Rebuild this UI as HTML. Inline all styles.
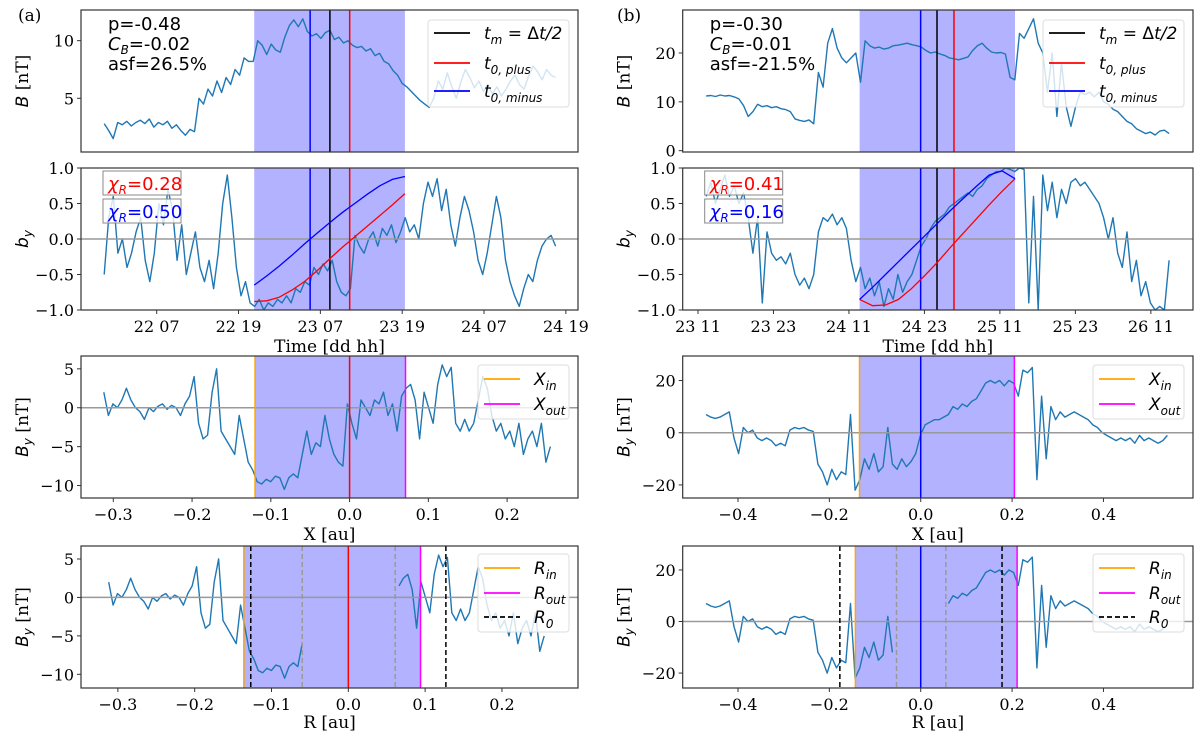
<!DOCTYPE html>
<html><head><meta charset="utf-8"><style>
body{margin:0;background:#fff;}
svg{display:block;font-family:"DejaVu Serif","Liberation Serif",serif;}
.tk{font-size:16px;fill:#000;}
.lg{font-family:"DejaVu Sans","Liberation Sans",sans-serif;font-size:17px;font-style:italic;}
.an{font-family:"DejaVu Sans","Liberation Sans",sans-serif;font-size:18px;}
</style></head><body>
<svg id="fig" width="1200" height="737" viewBox="0 0 1200 737" xmlns="http://www.w3.org/2000/svg"></svg>
<script>
// ---- Data arrays ----
// Panel (a)
const aTimeRange = [-7.7, 58.5]; // hours relative to 22 07
const aB = [2.8,2.2,1.5,2.9,2.7,3.0,2.6,2.9,3.1,2.8,3.2,2.5,2.9,2.7,3.0,
 2.4,2.7,2.2,1.8,2.3,2.1,
 5.0,4.5,5.8,5.2,6.5,5.5,6.8,6.2,7.5,7.0,8.5,8.2,
 8.2,10.0,9.6,8.8,9.7,9.2,9.0,10.3,
 11.3,11.8,11.2,11.9,10.8,
 10.4,10.6,10.2,10.7,10.9,10.1,10.3,9.8,10.0,9.6,
 9.4,9.5,9.1,9.3,8.7,8.9,8.2,8.0,7.4,7.0,6.3,
 6.0,5.6,5.2,4.8,4.5,4.2,
 5.0,6.5,5.8,7.2,6.0,5.0,6.4,7.5,6.8,5.9,6.5,5.6,6.2,5.4,6.0,5.2,5.8,6.5,7.0,6.2,5.8,6.9,7.8,7.3,6.6,7.5,7.0,6.8];
const aBy = [-0.5,0.3,0.6,-0.2,0.0,-0.4,-0.2,0.1,0.3,-0.3,
 -0.6,-0.2,0.5,0.2,0.7,0.4,-0.3,0.2,-0.5,-0.2,
 0.1,-0.4,-0.6,-0.3,-0.7,-0.2,0.5,0.9,0.3,-0.4,
 -0.8,-0.6,-0.9,-0.95,-0.85,-1.0,-0.9,-0.95,-0.85,-0.9,
 -0.8,-0.9,-0.7,-0.75,-0.6,-0.65,-0.4,-0.5,-0.35,-0.45,
 -0.3,-0.6,-0.75,-0.8,-0.7,0.05,-0.1,-0.2,0.0,0.1,
 -0.1,0.15,0.05,0.2,-0.05,0.1,0.3,0.1,0.2,0.0,
 0.5,0.8,0.6,0.85,0.4,0.7,0.2,-0.1,0.3,0.6,
 0.4,0.1,-0.3,-0.5,-0.2,0.2,0.6,0.3,-0.3,-0.6,
 -0.8,-0.95,-0.7,-0.5,-0.6,-0.3,-0.1,0.0,0.05,-0.1];
const aFitRange = [14.3, 36.4];
const aFitMinus = [-0.65,-0.52,-0.38,-0.23,-0.07,0.08,0.23,0.37,0.5,0.63,0.75,0.84,0.88];
const aFitPlus = [-0.88,-0.87,-0.82,-0.72,-0.6,-0.45,-0.28,-0.12,0.03,0.18,0.33,0.48,0.64];
const aTimes = [22.5, 25.4, 28.3]; // t0,minus ; tm ; t0,plus
const aXRange = [-0.312, 0.255];
const aByX = [2,-1,0.5,0,1,2.5,1,0,-0.5,-1.5,
 0,-0.5,0.2,0.5,-0.2,0.3,0,-1,0.5,1.5,
 4,-2,-4,-3.5,2,5,-3,-4,-5,-6,
 -1,-4,-7,-8,-9.5,-9.8,-9.2,-9.5,-8.8,-9,
 -10.5,-9,-8.5,-9,-6,-3,-6,-4.5,-5,-1,
 -4,-6,-7,-7.5,0.5,-2,-4,1,0,-1,
 1,0.5,2,-1,0.5,-3,1.5,2.5,3,1,
 -4,2,0,-2,3,5.5,4,5.2,-2,-3,
 -1.5,-3,-2,1,4,2.5,-1,-3,-2,-4,
 -3,-5,-2,-6,-4,-3,-5,-2,-7,-5];
const aXinOut = [-0.12, 0.071];
const aRinOut = [-0.136, 0.094];
const aR0 = [-0.127, 0.127];
const aGap = [-0.06, 0.061];
const aStats = ["p=-0.48", "-0.02", "asf=26.5%"];
const aChi = ["0.28", "0.50"];
// Panel (b)
const bTimeRange = [1.3, 74.9]; // hours relative to 23 11
const bB = [11.2,11.3,11.1,11.4,11.2,11.3,11.0,10.6,9.2,
 7.0,8.0,
 9.5,9.0,9.2,8.8,9.0,8.6,8.4,8.0,
 6.5,6.2,6.0,6.3,5.5,
 16,13,22,25,21,19,18,19,20,14,
 22.5,21.5,21,21.2,20.8,21.0,21.5,21.6,21.8,22.0,21.7,21.5,21.2,20.5,20.0,20.2,19.8,19.5,19.0,18.8,18.6,18.9,19.2,20.5,21.5,22.0,21.0,20.2,20.0,20.1,19.8,15,14.5,
 24,23,25,27,22,20,
 12,20,7,18,9,5,9,12,11.5,12,11,12,10,9.5,8.5,8,7,6,5.5,4.5,4.0,3.5,3.8,3.2,4.0,4.2,3.5];
const bBy = [0.6,0.8,0.5,0.7,0.9,0.6,0.75,0.5,0.65,0.3,
 -0.2,0.3,-0.9,0.1,-0.2,-0.3,-0.25,-0.35,-0.2,-0.5,
 -0.65,-0.55,-0.7,-0.5,0.1,0.3,0.25,0.35,0.2,0.3,
 0.15,-0.3,-0.6,-0.4,-0.7,-0.55,-0.8,-0.6,-0.95,-0.7,
 -0.85,-0.5,-0.75,-0.6,-0.5,-0.3,-0.1,0.0,0.15,0.25,
 0.3,0.35,0.45,0.5,0.55,0.6,0.65,0.6,0.7,0.75,
 0.85,0.9,0.95,0.95,1.0,0.98,0.95,1.0,0.98,-0.9,
 0.6,-1.0,0.9,0.4,0.8,0.3,0.7,0.5,0.8,0.85,
 0.75,0.8,0.7,0.6,0.5,0.3,0.0,0.3,-0.2,-0.4,
 0.1,-0.6,-0.3,-0.8,-0.6,-0.9,-1.0,-0.95,-1.0,-0.3];
const bFitRange = [25.7, 50.4];
const bFitMinus = [-0.85,-0.68,-0.5,-0.32,-0.14,0.04,0.22,0.4,0.57,0.74,0.9,0.96,0.85];
const bFitPlus = [-0.85,-0.94,-0.93,-0.85,-0.7,-0.52,-0.33,-0.12,0.08,0.28,0.48,0.67,0.85];
const bTimes = [35.4, 38.0, 40.7];
const bXRange = [-0.47, 0.54];
const bByX = [7,6,5.5,6,7,8,-2,-8,2,0,
 1,-2,-3,-2,-3,-5,-4,-5,1,2,
 1.5,2,1,0.5,-12,-15,-20,-14,-18,-15,
 -16,7,-22,-18,-10,-14,-8,-15,-13,2,
 -12,-14,-10,-13,-11,-8,-1,3,4,5,
 5,6,7,10,9,11,10,12,13,16,
 19,20,19,20,18,20,19,14,24,23,
 25,-18,14,-10,10,5,8,6,7,8,
 7,6,5,3,2,0,-1,-2,-3,-2,
 -3,-2,-4,-1,-3,-2,-3,-4,-3,-1];
const bXinOut = [-0.134, 0.205];
const bRinOut = [-0.143, 0.211];
const bR0 = [-0.177, 0.178];
const bGap = [-0.053, 0.055];
const bStats = ["p=-0.30", "-0.01", "asf=-21.5%"];
const bChi = ["0.41", "0.16"];
// Tick labels
const aTimeTicks = [0,12,24,36,48,60];
const aTimeLabels = ["22 07","22 19","23 07","23 19","24 07","24 19"];
const bTimeTicks = [0,12,24,36,48,60,72];
const bTimeLabels = ["23 11","23 23","24 11","24 23","25 11","25 23","26 11"];
const aXTicks = [-0.3,-0.2,-0.1,0.0,0.1,0.2];
const bXTicks = [-0.4,-0.2,0.0,0.2,0.4];
const aBTicks = [5,10];
const bBTicks = [0,10,20];
const byTicks = [-1.0,-0.5,0.0,0.5,1.0];
const aByTicks = [-10,-5,0,5];
const bByTicks = [-20,0,20];

// ---- Rendering ----
const NS = "http://www.w3.org/2000/svg";
const svg = document.getElementById("fig");
function mk(tag, attrs, parent) {
  const e = document.createElementNS(NS, tag);
  for (const k in attrs) e.setAttribute(k, attrs[k]);
  (parent || svg).appendChild(e);
  return e;
}
function scale(d0, d1, r0, r1) { return v => r0 + (v - d0) * (r1 - r0) / (d1 - d0); }
const ROWS = [[10,152],[168,310],[356,498],[546,688]];
const COLS = { a: [81,578], b: [682.7,1193] };
const fmt = v => (v < 0 ? "\u2212" : "") + Math.abs(v).toFixed(1);
const fmtI = v => (v < 0 ? "\u2212" : "") + Math.abs(v);
let clipId = 0;

function panel(col, row, xdom, ydom, name) {
  const [x0,x1] = COLS[col], [y0,y1] = ROWS[row];
  const g = mk("g", {});
  
  
  const id = "c" + (clipId++);
  const cp = mk("clipPath", {id: id}, g);
  mk("rect", {x:x0, y:y0, width:x1-x0, height:y1-y0}, cp);
  const inner = mk("g", {"clip-path": "url(#" + id + ")"}, g);
  return { g, inner, x0, x1, y0, y1, sx: scale(xdom[0], xdom[1], x0, x1), sy: scale(ydom[0], ydom[1], y1, y0) };
}
function frame(p) {
  const r = mk("rect", {x:p.x0, y:p.y0, width:p.x1-p.x0, height:p.y1-p.y0, fill:"none", stroke:"#333", "stroke-width":1.2}, p.g);
  
  
}
function shade(p, a, b, name) {
  const r = mk("rect", {x:p.sx(a), y:p.y0, width:p.sx(b)-p.sx(a), height:p.y1-p.y0, fill:"#b2b2ff"}, p.inner);
  
  
}
function vline(p, v, color, name, dash) {
  const l = mk("line", {x1:p.sx(v), x2:p.sx(v), y1:p.y0, y2:p.y1, stroke:color, "stroke-width":1.5}, p.inner);
  if (dash) l.setAttribute("stroke-dasharray", "5,3");
  
  
}
function hzero(p) {
  const l = mk("line", {x1:p.x0, x2:p.x1, y1:p.sy(0), y2:p.sy(0), stroke:"#999", "stroke-width":1.5}, p.inner);
  
  
}
function series(p, range, vals, name, gap) {
  let d = "", pen = false;
  const n = vals.length;
  for (let i = 0; i < n; i++) {
    const t = range[0] + (range[1] - range[0]) * i / (n - 1);
    if (gap && t > gap[0] && t < gap[1]) { pen = false; continue; }
    d += (pen ? "L" : "M") + p.sx(t).toFixed(1) + "," + p.sy(vals[i]).toFixed(1);
    pen = true;
  }
  const e = mk("path", {d: d, fill:"none", stroke:"#1f77b4", "stroke-width":1.4, "stroke-linejoin":"round"}, p.inner);
  
  
}
function curve(p, range, vals, color, name) {
  let d = "";
  vals.forEach((v, i) => {
    const t = range[0] + (range[1] - range[0]) * i / (vals.length - 1);
    d += (i ? "L" : "M") + p.sx(t).toFixed(1) + "," + p.sy(v).toFixed(1);
  });
  const e = mk("path", {d: d, fill:"none", stroke:color, "stroke-width":1.3}, p.inner);
  
  
}
function yticks(p, ticks, f) {
  ticks.forEach(v => {
    const y = p.sy(v);
    const l = mk("line", {x1:p.x0-4, x2:p.x0, y1:y, y2:y, stroke:"#333"}, p.g);
    
    
    const t = mk("text", {x:p.x0-7, y:y+6, "text-anchor":"end", class:"tk"}, p.g);
    t.textContent = f(v);
    
    
  });
}
function xticks(p, ticks, labels) {
  ticks.forEach((v, i) => {
    const x = p.sx(v);
    const l = mk("line", {x1:x, x2:x, y1:p.y1, y2:p.y1+4, stroke:"#333"}, p.g);
    
    
    const t = mk("text", {x:x, y:p.y1+22, "text-anchor":"middle", class:"tk"}, p.g);
    t.textContent = labels[i];
    
    
  });
}
function label(x, y, html, name, rot) {
  const t = mk("text", {x:x, y:y, "text-anchor":"middle", "font-size":17});
  if (rot) t.setAttribute("transform", "rotate(-90 " + x + " " + y + ")");
  t.innerHTML = html;
  
  
}
function legend(x0, x1, y0, y1, entries, name) {
  const g = mk("g", {});
  
  
  mk("rect", {x:x0, y:y0, width:x1-x0, height:y1-y0, rx:3, fill:"#fff", "fill-opacity":0.8, stroke:"#ddd"}, g);
  entries.forEach(en => {
    const l = mk("line", {x1:x0+6, x2:x0+42, y1:en.y, y2:en.y, stroke:en.c, "stroke-width":1.8}, g);
    if (en.dash) l.setAttribute("stroke-dasharray", "5,3");
    
    
    const t = mk("text", {x:x0+56, y:en.y+6, class:"lg"}, g);
    t.innerHTML = en.h;
    
    
  });
}
const sub = s => '<tspan font-size="12" dy="5">' + s + '</tspan>';
function chiBox(x, y, val, color, name) {
  const g = mk("g", {});
  
  
  mk("rect", {x:x, y:y, width:78, height:24, fill:"#fff", "fill-opacity":0.8, stroke:"#888"}, g);
  const t = mk("text", {x:x+5, y:y+19, class:"an", fill:color}, g);
  t.innerHTML = '<tspan font-style="italic">χ</tspan>' + '<tspan font-size="12" font-style="italic" dy="4">R</tspan><tspan dy="-4">=' + val + '</tspan>';
}
function stats(x, y, s, name) {
  const g = mk("g", {});
  
  
  const t1 = mk("text", {x:x, y:y, class:"an"}, g); t1.textContent = s[0];
  const t2 = mk("text", {x:x, y:y+20, class:"an"}, g);
  t2.innerHTML = '<tspan font-style="italic">C</tspan><tspan font-size="12" font-style="italic" dy="4">B</tspan><tspan dy="-4">=' + s[1] + '</tspan>';
  const t3 = mk("text", {x:x, y:y+40, class:"an"}, g); t3.textContent = s[2];
}

function column(c, D) {
  const X0 = COLS[c][0], X1 = COLS[c][1], xm = (X0 + X1) / 2;
  const p1 = panel(c, 0, D.tdom, D.Bdom, "panel-" + c + "-B");
  shade(p1, D.fitRange[0], D.fitRange[1], "flux-rope-interval");
  series(p1, D.tRange, D.B, "B-series");
  vline(p1, D.times[0], "#0000ff", "t0-minus-line");
  vline(p1, D.times[1], "#000", "tm-line");
  vline(p1, D.times[2], "#ff0000", "t0-plus-line");
  frame(p1); yticks(p1, D.Bticks, fmtI);
  legend(X1-150, X1-9, 20, 107, [
    {y:33, c:"#000", h:'t' + sub('m') + '<tspan dy="-5" font-style="normal"> = Δ</tspan>t/2'},
    {y:63, c:"#f00", h:'t' + sub('0, plus')},
    {y:91, c:"#00f", h:'t' + sub('0, minus')}], "legend-times");
  stats(X0 + 27, 30, D.stats, "stats-annotation");
  const p2 = panel(c, 1, D.tdom, [-1,1], "panel-" + c + "-by");
  shade(p2, D.fitRange[0], D.fitRange[1], "flux-rope-interval");
  series(p2, D.tRange, D.by, "by-series");
  hzero(p2);
  vline(p2, D.times[0], "#0000ff", "t0-minus-line");
  vline(p2, D.times[1], "#000", "tm-line");
  vline(p2, D.times[2], "#ff0000", "t0-plus-line");
  curve(p2, D.fitRange, D.fitPlus, "#ff0000", "fit-plus-curve");
  curve(p2, D.fitRange, D.fitMinus, "#0000ff", "fit-minus-curve");
  frame(p2); yticks(p2, byTicks, fmt); xticks(p2, D.tTicks, D.tLabels);
  chiBox(X0 + 22, 171, D.chi[0], "#ff0000", "chi-plus-box");
  chiBox(X0 + 22, 199, D.chi[1], "#0000ff", "chi-minus-box");
  label(xm, 352, 'Time [dd hh]', 'x-axis-title-time');
  const p3 = panel(c, 2, D.Xdom, D.ByDom3, "panel-" + c + "-By-X");
  shade(p3, D.XinOut[0], D.XinOut[1], "flux-rope-interval");
  series(p3, D.XRange, D.ByX, "By-X-series");
  hzero(p3);
  vline(p3, D.XinOut[0], "#ffa500", "Xin-line");
  vline(p3, D.XinOut[1], "#ff00ff", "Xout-line");
  vline(p3, 0, D.cen, "center-line");
  frame(p3); yticks(p3, D.ByTicks, fmtI); xticks(p3, D.Xticks, D.Xticks.map(fmt));
  legend(X1-100, X1-9, 365, 419, [
    {y:379, c:"#ffa500", h:'X' + sub('in')},
    {y:404, c:"#ff00ff", h:'X' + sub('out')}], "legend-X");
  label(xm, 540, 'X [au]', 'x-axis-title-X');
  const p4 = panel(c, 3, D.Rdom, D.ByDom4, "panel-" + c + "-By-R");
  shade(p4, D.RinOut[0], D.RinOut[1], "flux-rope-interval");
  series(p4, D.XRange, D.ByX, "By-R-series", D.gap);
  hzero(p4);
  vline(p4, D.RinOut[0], "#ffa500", "Rin-line");
  vline(p4, D.RinOut[1], "#ff00ff", "Rout-line");
  vline(p4, D.gap[0], "#999", "gap-line", true);
  vline(p4, D.gap[1], "#999", "gap-line", true);
  vline(p4, D.R0[0], "#000", "R0-line", true);
  vline(p4, D.R0[1], "#000", "R0-line", true);
  vline(p4, 0, D.cen, "center-line");
  frame(p4); yticks(p4, D.ByTicks, fmtI); xticks(p4, D.Xticks, D.Xticks.map(fmt));
  legend(X1-100, X1-9, 554, 632, [
    {y:568, c:"#ffa500", h:'R' + sub('in')},
    {y:593, c:"#ff00ff", h:'R' + sub('out')},
    {y:617, c:"#000", h:'R' + sub('0'), dash:true}], "legend-R");
  label(xm, 728, 'R [au]', 'x-axis-title-R');
  const yx = X0 - 53;
  label(yx, 81, '<tspan font-style="italic" font-family="DejaVu Sans">B</tspan> [nT]', 'y-axis-title-B', true);
  label(yx, 239, '<tspan font-style="italic" font-family="DejaVu Sans">b<tspan font-size="12" dy="4">y</tspan></tspan>', 'y-axis-title-by', true);
  label(yx, 427, '<tspan font-style="italic" font-family="DejaVu Sans">B<tspan font-size="12" dy="4">y</tspan></tspan><tspan dy="-4"> [nT]</tspan>', 'y-axis-title-By', true);
  label(yx, 617, '<tspan font-style="italic" font-family="DejaVu Sans">B<tspan font-size="12" dy="4">y</tspan></tspan><tspan dy="-4"> [nT]</tspan>', 'y-axis-title-By', true);
}

column("a", {
  tdom:[-11.1, 61.78], tRange:aTimeRange, B:aB, by:aBy, Bdom:[0.34,12.66], Bticks:aBTicks,
  fitRange:aFitRange, fitPlus:aFitPlus, fitMinus:aFitMinus, times:aTimes, stats:aStats, chi:aChi,
  tTicks:aTimeTicks, tLabels:aTimeLabels,
  Xdom:[-0.341,0.290], Rdom:[-0.348,0.299], XRange:aXRange, ByX:aByX, ByDom3:[-11.6,6.65], ByDom4:[-11.78,6.69],
  ByTicks:aByTicks, Xticks:aXTicks, XinOut:aXinOut, RinOut:aRinOut, R0:aR0, gap:aGap, cen:"#ff0000"
});
column("b", {
  tdom:[-2.43, 78.7], tRange:bTimeRange, B:bB, by:bBy, Bdom:[-0.27,28.8], Bticks:bBTicks,
  fitRange:bFitRange, fitPlus:bFitPlus, fitMinus:bFitMinus, times:bTimes, stats:bStats, chi:bChi,
  tTicks:bTimeTicks, tLabels:bTimeLabels,
  Xdom:[-0.521,0.596], Rdom:[-0.521,0.596], XRange:bXRange, ByX:bByX, ByDom3:[-25,29.4], ByDom4:[-25.8,29.3],
  ByTicks:bByTicks, Xticks:bXTicks, XinOut:bXinOut, RinOut:bRinOut, R0:bR0, gap:bGap, cen:"#0000ff"
});
const pa = mk("text", {x:18, y:21, "font-size":17});
pa.textContent = "(a)";


const pb = mk("text", {x:617, y:21, "font-size":17});
pb.textContent = "(b)";


</script>
</body></html>
